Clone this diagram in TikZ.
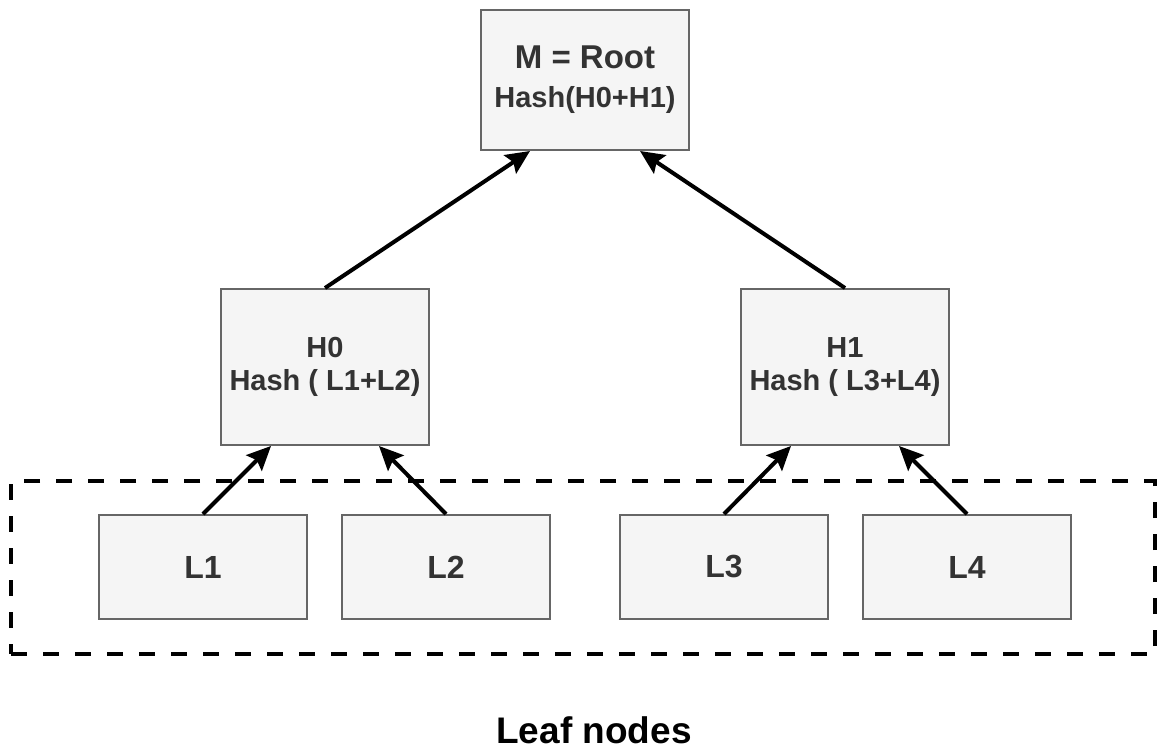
\documentclass[tikz,border=0pt]{standalone}
\usepackage{fontspec}
\setmainfont{Liberation Sans}
\usetikzlibrary{arrows.meta}
\definecolor{boxfill}{HTML}{F5F5F5}
\definecolor{boxline}{HTML}{666666}
\definecolor{boxtext}{HTML}{333333}
\begin{document}
\begin{tikzpicture}[x=1pt,y=-1pt,
  hashbox/.style={draw=boxline, line width=2pt, fill=boxfill, text=boxtext,
    minimum width=208pt, inner sep=0pt, align=center},
  hashfont/.style={font=\bfseries\fontsize{29}{33}\selectfont},
  leaffont/.style={font=\bfseries\fontsize{32}{38}\selectfont},
  link/.style={line width=4pt, -{Stealth[length=24pt,width=22pt,inset=4pt]}}
]
\useasboundingbox (0,0) rectangle (1160,749);

% leaf group frame
\node[draw, line width=4pt, dash pattern=on 16pt off 16pt, minimum width=1144pt,
      minimum height=173pt, inner sep=0pt] (group) at (583,567.5) {};

% tree nodes
\node[hashbox, minimum height=140pt, font=\bfseries\fontsize{29}{39}\selectfont] (root) at (585,80)
  {{\fontsize{33}{39}\selectfont M = Root}\\Hash(H0+H1)};
\node[hashbox, hashfont, minimum height=156pt] (h0) at (325,367)
  {H0\\Hash ( L1+L2)};
\node[hashbox, hashfont, minimum height=156pt] (h1) at (845,367)
  {H1\\Hash ( L3+L4)};

\node[hashbox, leaffont, minimum height=104pt] (l1) at (203,567) {L1};
\node[hashbox, leaffont, minimum height=104pt] (l2) at (446,567) {L2};
\node[hashbox, leaffont, minimum height=104pt] (l3) at (724,567) {L3};
\node[hashbox, leaffont, minimum height=104pt] (l4) at (967,567) {L4};

% connectors
\draw[link] (h0.north) -- ([xshift=-55pt]root.south);
\draw[link] (h1.north) -- ([xshift=55pt]root.south);
\draw[link] (l1.north) -- ([xshift=-54pt]h0.south);
\draw[link] (l2.north) -- ([xshift=54pt]h0.south);
\draw[link] (l3.north) -- ([xshift=-54pt]h1.south);
\draw[link] (l4.north) -- ([xshift=54pt]h1.south);

% caption
\node[font=\bfseries\fontsize{37}{44}\selectfont, anchor=base, inner sep=0pt] (caption) at (594,743) {Leaf nodes};
\end{tikzpicture}
\end{document}
